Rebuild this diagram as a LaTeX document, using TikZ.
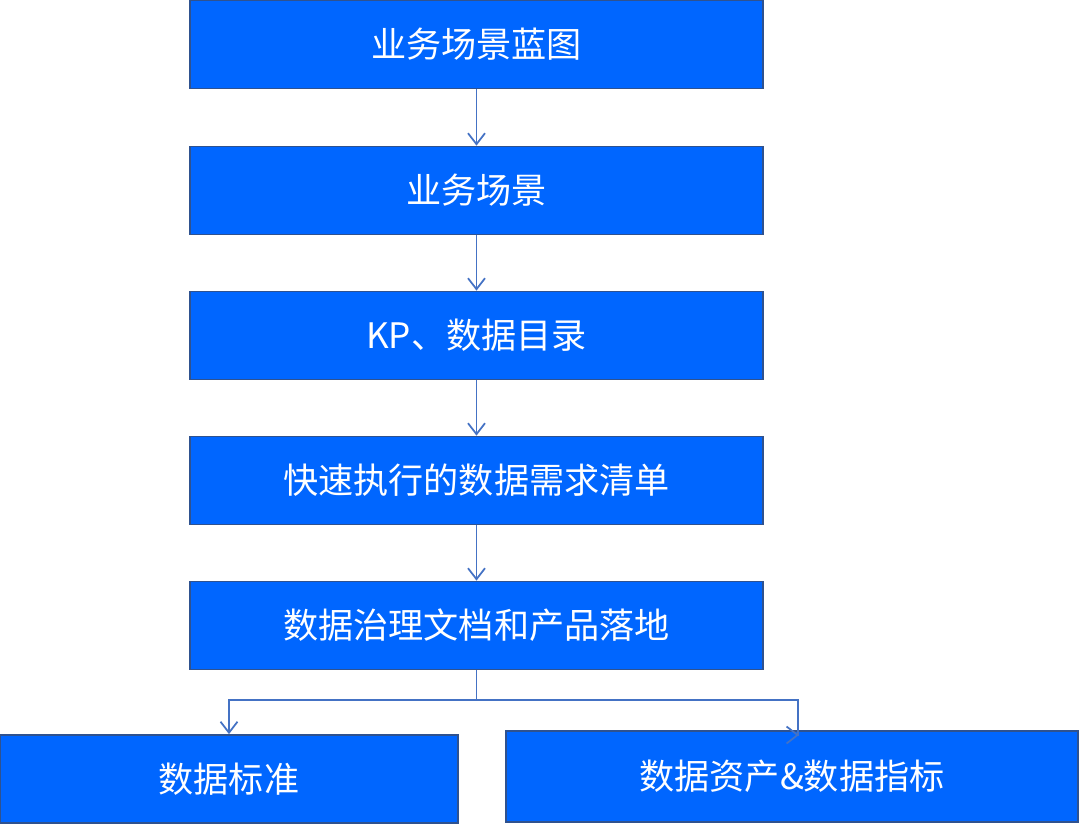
\documentclass[tikz,border=0pt]{standalone}
\usepackage{fontspec}
\newfontfamily\cjk{Noto Sans CJK SC}
\usetikzlibrary{arrows.meta, positioning}
\definecolor{boxblue}{HTML}{0066FF}
\definecolor{edgeblue}{HTML}{2F528F}
\definecolor{linkblue}{HTML}{4472C4}

\begin{document}
\begin{tikzpicture}[x=0.02cm, y=-0.02cm, >={Straight Barb[length=2.2mm,width=3.4mm]},
    box/.style={draw=edgeblue, line width=1pt, fill=boxblue, text=white,
        font=\cjk\fontsize{20}{24}\selectfont, minimum height=1.76cm, inner sep=0pt},
    link/.style={linkblue, line width=1pt}]
    \useasboundingbox (0,0) rectangle (1080,825);

    % Các bước chính
    \node[box, minimum width=11.46cm] (blueprint) at (476.5,44.5) {业务场景蓝图};
    \node[box, minimum width=11.46cm] (scene) at (476.5,190.5) {业务场景};
    \node[box, minimum width=11.46cm] (catalog) at (476.5,335.5) {KP、数据目录};
    \node[box, minimum width=11.46cm] (demand) at (476.5,480.5) {快速执行的数据需求清单};
    \node[box, minimum width=11.46cm] (landing) at (476.5,625.5) {数据治理文档和产品落地};

    % Hai nhánh cuối
    \node[box, minimum width=9.16cm] (standard) at (229,779) {数据标准};
    \node[box, minimum width=11.44cm, minimum height=1.82cm] (asset) at (792,776.5) {数据资产\&数据指标};

    % Mũi tên
    \foreach \a/\b in {blueprint/scene, scene/catalog, catalog/demand, demand/landing} {
        \draw[link, ->] (\a) -- (\b);
    }
    \coordinate (split) at (476.5,700);
    \coordinate (turn) at (798,735);
    \draw[link] (landing.south) -- (split);
    \draw[link, ->] (split) -| (standard.north);
    \draw[link, ->] (split) -| (turn) -- ++(1,0);
\end{tikzpicture}
\end{document}
